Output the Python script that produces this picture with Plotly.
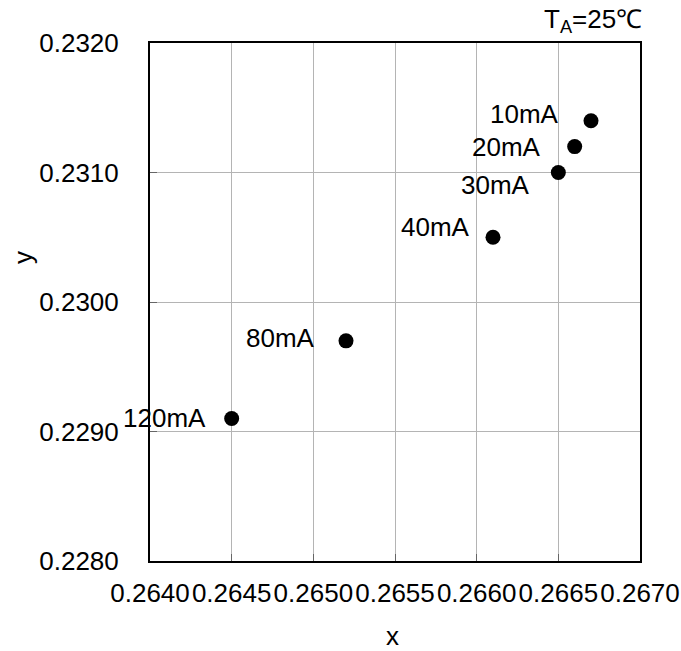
import plotly.graph_objects as go

# Chromaticity coordinates at each forward current
currents = ["10mA", "20mA", "30mA", "40mA", "80mA", "120mA"]
cie_x = [0.2667, 0.2666, 0.2665, 0.2661, 0.2652, 0.2645]
cie_y = [0.2314, 0.2312, 0.2310, 0.2305, 0.2297, 0.2291]

# label offsets (pixels) relative to each marker
label_dx = [-30, -32, -26, -21, -29, -24]
label_dy = [7, 0, -12, 10, 3, 1]

x_ticks = [0.2640, 0.2645, 0.2650, 0.2655, 0.2660, 0.2665, 0.2670]
y_ticks = [0.2280, 0.2290, 0.2300, 0.2310, 0.2320]

FONT = "Liberation Sans, Arial, sans-serif"
TXT = dict(family=FONT, size=26, color="black")

fig = go.Figure()
fig.add_trace(go.Scatter(
    x=cie_x, y=cie_y, mode="markers",
    marker=dict(size=15, color="black"),
    showlegend=False, hoverinfo="skip",
))

for cx, cy, lab, dx, dy in zip(cie_x, cie_y, currents, label_dx, label_dy):
    fig.add_annotation(
        x=cx, y=cy, text=lab, showarrow=False,
        xanchor="right", yanchor="middle",
        xshift=dx, yshift=dy, font=TXT,
    )

# ambient temperature note above the plot's top-right corner
fig.add_annotation(
    x=1, y=1, xref="paper", yref="paper",
    text="T<sub>A</sub>=25℃", showarrow=False,
    xanchor="right", yanchor="bottom", xshift=4, yshift=4, font=TXT,
)

# axis titles
fig.add_annotation(
    x=0.494, y=-0.145, xref="paper", yref="paper",
    text="x", showarrow=False, xanchor="center", yanchor="middle", font=TXT,
)
fig.add_annotation(
    x=-0.259, y=0.585, xref="paper", yref="paper",
    text="y", showarrow=False, textangle=-90,
    xanchor="center", yanchor="middle", font=TXT,
)

axis_common = dict(
    showgrid=True, gridcolor="#b4b4b4", gridwidth=1,
    showline=True, linecolor="black", linewidth=2, mirror=True,
    ticks="inside", ticklen=7, tickcolor="#666666", tickwidth=1,
    tickfont=TXT, zeroline=False, automargin=False,
)

fig.update_xaxes(
    range=[0.2640, 0.2670], tickvals=x_ticks,
    ticktext=[f"{v:.4f}" for v in x_ticks],
    ticklabelstandoff=8,
    **axis_common,
)
fig.update_yaxes(
    range=[0.2280, 0.2320], tickvals=y_ticks,
    ticktext=[f"{v:.4f}" for v in y_ticks],
    ticklabelstandoff=24,
    **axis_common,
)

fig.update_layout(
    width=681, height=651,
    margin=dict(l=150, r=41, t=43, b=90),
    plot_bgcolor="white", paper_bgcolor="white",
)

fig.write_html("out.html")
